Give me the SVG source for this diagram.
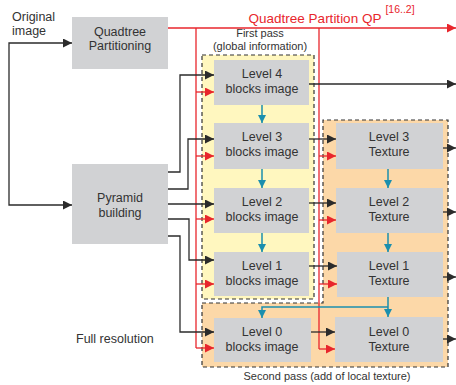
<svg xmlns="http://www.w3.org/2000/svg" width="456" height="385" viewBox="0 0 456 385">
<style>
text{font-family:"Liberation Sans","DejaVu Sans",sans-serif;fill:#333;text-anchor:middle}
.box{fill:#d1d2d4}
.t{font-size:12.5px}
.s{font-size:11px}
.k{fill:none;stroke:#2b2b2b;stroke-width:1.3;marker-end:url(#ak)}
.r{fill:none;stroke:#e8262c;stroke-width:1.3}
.ra{marker-end:url(#ar)}
.b{fill:none;stroke:#1b8fae;stroke-width:1.5}
.ba{marker-end:url(#ab)}
.reg{stroke:#333;stroke-width:1.2;stroke-dasharray:4,3}
</style>
<defs>
<marker id="ak" markerUnits="userSpaceOnUse" markerWidth="10" markerHeight="10" refX="9" refY="4.5" orient="auto"><path d="M0,0 L9,4.5 L0,9 Z" fill="#2b2b2b"/></marker>
<marker id="ar" markerUnits="userSpaceOnUse" markerWidth="10" markerHeight="10" refX="9" refY="4.5" orient="auto"><path d="M0,0 L9,4.5 L0,9 Z" fill="#e8262c"/></marker>
<marker id="ab" markerUnits="userSpaceOnUse" markerWidth="10" markerHeight="10" refX="8" refY="4" orient="auto"><path d="M0,0 L8,4 L0,8 Z" fill="#1b8fae"/></marker>
</defs>
<rect width="456" height="385" fill="#fff"/>

<g id="regions">
<rect id="first-pass" class="reg" x="202" y="55" width="112" height="244" fill="#fff7bf"/>
<path id="second-pass" class="reg" d="M202,303 H323 V120 H448 V367 H202 Z" fill="#fcd8a8"/>
<text class="s" x="260" y="37">First pass</text>
<text class="s" x="260" y="50">(global information)</text>
<text class="s" x="327" y="380">Second pass (add of local texture)</text>
</g>

<g id="labels">
<text class="t" x="12" y="21" style="text-anchor:start">Original</text>
<text class="t" x="12" y="35" style="text-anchor:start">image</text>
<text class="t" x="76" y="343" style="text-anchor:start">Full resolution</text>
<text x="315" y="23" style="font-size:13.5px;fill:#e8262c">Quadtree Partition QP</text>
<text x="400" y="13" style="font-size:10.5px;fill:#e8262c">[16..2]</text>
</g>

<g id="quadtree"><rect class="box" x="72" y="17" width="96" height="52"/><text class="t" x="120" y="36">Quadtree</text><text class="t" x="120" y="50">Partitioning</text></g>
<g id="pyramid"><rect class="box" x="72" y="164" width="96" height="80"/><text class="t" x="120" y="202">Pyramid</text><text class="t" x="120" y="217">building</text></g>

<g id="level4-blocks"><rect class="box" x="214" y="60" width="95" height="45"/><text class="t" x="262" y="78">Level 4</text><text class="t" x="262" y="93">blocks image</text></g>
<g id="level3-blocks"><rect class="box" x="214" y="123" width="95" height="46"/><text class="t" x="262" y="141">Level 3</text><text class="t" x="262" y="156">blocks image</text></g>
<g id="level2-blocks"><rect class="box" x="214" y="188" width="95" height="45"/><text class="t" x="262" y="206">Level 2</text><text class="t" x="262" y="221">blocks image</text></g>
<g id="level1-blocks"><rect class="box" x="214" y="252" width="95" height="44"/><text class="t" x="262" y="270">Level 1</text><text class="t" x="262" y="285">blocks image</text></g>
<g id="level0-blocks"><rect class="box" x="214" y="318" width="97" height="44"/><text class="t" x="262" y="336">Level 0</text><text class="t" x="262" y="351">blocks image</text></g>

<g id="level3-texture"><rect class="box" x="336" y="123" width="107" height="46"/><text class="t" x="389" y="141">Level 3</text><text class="t" x="389" y="156">Texture</text></g>
<g id="level2-texture"><rect class="box" x="336" y="188" width="107" height="45"/><text class="t" x="389" y="206">Level 2</text><text class="t" x="389" y="221">Texture</text></g>
<g id="level1-texture"><rect class="box" x="337" y="252" width="106" height="45"/><text class="t" x="389" y="270">Level 1</text><text class="t" x="389" y="285">Texture</text></g>
<g id="level0-texture"><rect class="box" x="335" y="317" width="108" height="45"/><text class="t" x="389" y="336">Level 0</text><text class="t" x="389" y="351">Texture</text></g>

<g id="connectors">
<path class="k" d="M9,124 V43 H72"/>
<path class="k" d="M9,124 V205 H72"/>
<path class="r ra" d="M168,28 H456"/>
<path class="r" d="M196,28 V348"/>
<path class="r" d="M319,28 V349"/>
<path class="r ra" d="M196,92 H214"/>
<path class="r ra" d="M196,156 H214"/>
<path class="r ra" d="M196,219 H214"/>
<path class="r ra" d="M196,284 H214"/>
<path class="r ra" d="M196,348 H214"/>
<path class="r ra" d="M319,156 H336"/>
<path class="r ra" d="M319,220 H336"/>
<path class="r ra" d="M319,284 H337"/>
<path class="r ra" d="M319,349 H335"/>
<path class="k" d="M168,172 H180 V75 H214"/>
<path class="k" d="M168,189 H188 V139 H214"/>
<path class="k" d="M168,204 H214"/>
<path class="k" d="M168,219 H189 V260 H214"/>
<path class="k" d="M168,236 H180 V332 H214"/>
<path class="k" d="M309,84 H456"/>
<path class="k" d="M309,139 H336"/>
<path class="k" d="M309,203 H336"/>
<path class="k" d="M309,266 H337"/>
<path class="k" d="M311,332 H335"/>
<path class="k" d="M443,148 H456"/>
<path class="k" d="M443,212 H456"/>
<path class="k" d="M443,277 H456"/>
<path class="k" d="M443,339 H456"/>
<path class="b ba" d="M262,105 V123"/>
<path class="b ba" d="M262,169 V188"/>
<path class="b ba" d="M262,233 V252"/>
<path class="b ba" d="M388,169 V188"/>
<path class="b ba" d="M388,233 V252"/>
<path class="b ba" d="M388,297 V317"/>
<path class="b ba" d="M388,307 H262 V318"/>
</g>
</svg>
